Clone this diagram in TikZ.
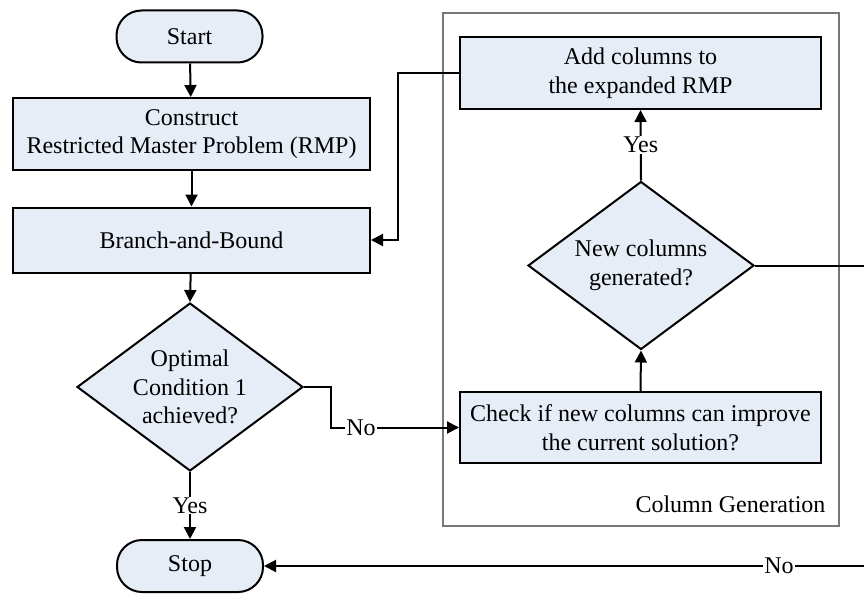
\documentclass[tikz,border=0pt]{standalone}
\usepackage{fontspec}
\setmainfont{Liberation Serif}
\usetikzlibrary{arrows.meta,shapes.geometric}
\definecolor{boxfill}{RGB}{230,237,247}
\definecolor{framegray}{RGB}{120,120,120}
\tikzset{
  base/.style={draw=black, line width=2pt, fill=boxfill, inner sep=0pt, align=center,
    font=\fontsize{24}{28.5}\selectfont},
  procbox/.style={base, rectangle, minimum width=#1, minimum height=71pt},
  term/.style={base, rectangle, rounded corners=25pt, minimum width=146pt, minimum height=52pt},
  decision/.style={base, diamond, aspect=1.34, minimum width=226pt, minimum height=168pt},
  conn/.style={line width=2pt},
  arr/.style={conn, -{Triangle[length=12pt,width=12pt]}},
  lbl/.style={fill=white, inner sep=1pt, font=\fontsize{24}{28.5}\selectfont},
}
\begin{document}
\begin{tikzpicture}[x=1pt,y=-1pt]
\useasboundingbox (0,0) rectangle (864,594);
% frame
\draw[framegray, line width=1.2pt] (443,13) rectangle (839,526);
\node[anchor=east, font=\fontsize{24}{28.5}\selectfont] (cglabel) at (829,504) {Column Generation};
% nodes
\node[term] (start) at (189.5,36.5) {Start};
\node[procbox=357pt, minimum height=72pt] (construct) at (191.5,134) {Construct\\Restricted Master Problem (RMP)};
\node[procbox=357pt, minimum height=65pt] (branch) at (191.5,240) {Branch-and-Bound};
\node[decision] (opt) at (190,387) {Optimal\\Condition 1\\achieved?};
\node[term] (stop) at (190,566) {Stop};
\node[procbox=361pt, minimum height=72pt] (add) at (640.5,73) {Add columns to\\the expanded RMP};
\node[decision] (newcol) at (641,265.5) {New columns\\generated?};
\node[procbox=361pt] (check) at (640.5,427.5) {Check if new columns can improve\\the current solution?};
% connectors
\draw[arr] (start) -- (construct);
\draw[arr] (construct) -- (branch);
\draw[arr] (branch) -- (opt.north);
\coordinate (n1) at (331,387);
\coordinate (n2) at (331,427.5);
\draw[arr] (opt.east) -- (n1) -- (n2) -- (check.west);
\node[lbl] (nolbl1) at (361,427.5) {No};
\draw[arr] (check.north) -- (newcol.south);
\draw[arr] (newcol.north) -- node[lbl] (yes2) {Yes} (add.south);
\draw[arr] (add.west) -- ++(-61,0) |- (branch.east);
\draw[arr] (opt.south) -- node[lbl] (yes1) {Yes} (stop.north);
\coordinate (r1) at (868,265.5);
\coordinate (r2) at (868,566);
\draw[arr] (newcol.east) -- (r1) -- (r2) -- (stop.east);
\node[lbl] (nolbl2) at (779,566) {No};
\end{tikzpicture}
\end{document}
